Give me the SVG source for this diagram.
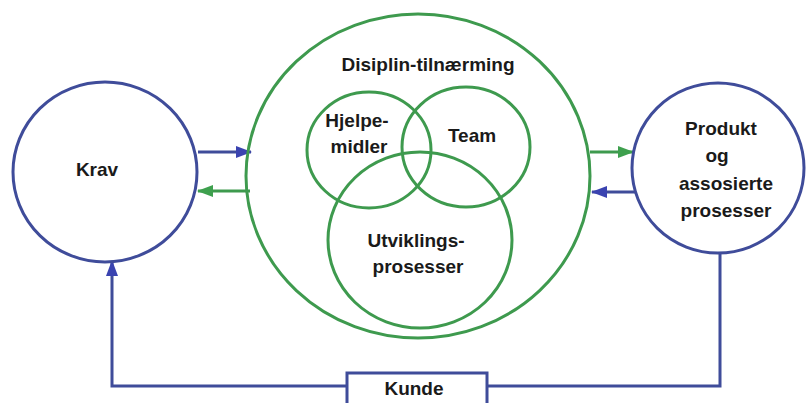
<svg xmlns="http://www.w3.org/2000/svg" width="808" height="403" viewBox="0 0 808 403">
<style>
.b{fill:none;stroke:#3f4c9a;stroke-width:3}
.g{fill:none;stroke:#3e9a4e;stroke-width:3}
.t{font-family:"Liberation Sans",Arial,sans-serif;font-weight:bold;font-size:19px;fill:#1a1a1a;text-anchor:middle}
</style>
<defs>
<marker id="ab" viewBox="0 0 16 12" refX="15" refY="6" markerWidth="16" markerHeight="12" markerUnits="userSpaceOnUse" orient="auto"><path d="M0,0 L16,6 L0,12 Z" fill="#3a43b0"/></marker>
<marker id="ag" viewBox="0 0 16 12" refX="15" refY="6" markerWidth="16" markerHeight="12" markerUnits="userSpaceOnUse" orient="auto"><path d="M0,0 L16,6 L0,12 Z" fill="#3ea04e"/></marker>
</defs>
<rect width="808" height="403" fill="#ffffff"/>
<g id="connectors">
<line class="b" x1="198" y1="152" x2="251" y2="152" marker-end="url(#ab)"/>
<line class="g" x1="250" y1="191" x2="198" y2="191" marker-end="url(#ag)"/>
<line class="g" x1="590" y1="152" x2="633" y2="152" marker-end="url(#ag)"/>
<line class="b" x1="636" y1="192" x2="592" y2="192" marker-end="url(#ab)"/>
<polyline class="b" points="347,386 112,386 112,261" marker-end="url(#ab)"/>
<polyline class="b" points="487,386 720,386 720,254"/>
</g>
<g id="krav">
<ellipse class="b" cx="105" cy="172" rx="92" ry="90" fill="#fff"/>
<text class="t" x="97" y="176">Krav</text>
</g>
<g id="disiplin">
<ellipse class="g" cx="418" cy="176" rx="172" ry="162"/>
<text class="t" x="428" y="71">Disiplin-tilnærming</text>
</g>
<g id="hjelpemidler">
<ellipse class="g" cx="369" cy="150" rx="62" ry="58"/>
<text class="t" x="357" y="127">Hjelpe-</text>
<text class="t" x="359" y="153">midler</text>
</g>
<g id="team">
<ellipse class="g" cx="466" cy="147" rx="64" ry="60"/>
<text class="t" x="472" y="142">Team</text>
</g>
<g id="utvikling">
<ellipse class="g" cx="420" cy="240" rx="92" ry="88"/>
<text class="t" x="416" y="247">Utviklings-</text>
<text class="t" x="418" y="273">prosesser</text>
</g>
<g id="produkt">
<ellipse class="b" cx="718" cy="168" rx="86" ry="85" fill="#fff"/>
<text class="t" x="721" y="135">Produkt</text>
<text class="t" x="717" y="162">og</text>
<text class="t" x="726" y="190">assosierte</text>
<text class="t" x="726" y="217">prosesser</text>
</g>
<g id="kunde">
<rect class="b" x="347" y="373" width="140" height="40" fill="#fff"/>
<text class="t" x="414" y="395">Kunde</text>
</g>
</svg>
